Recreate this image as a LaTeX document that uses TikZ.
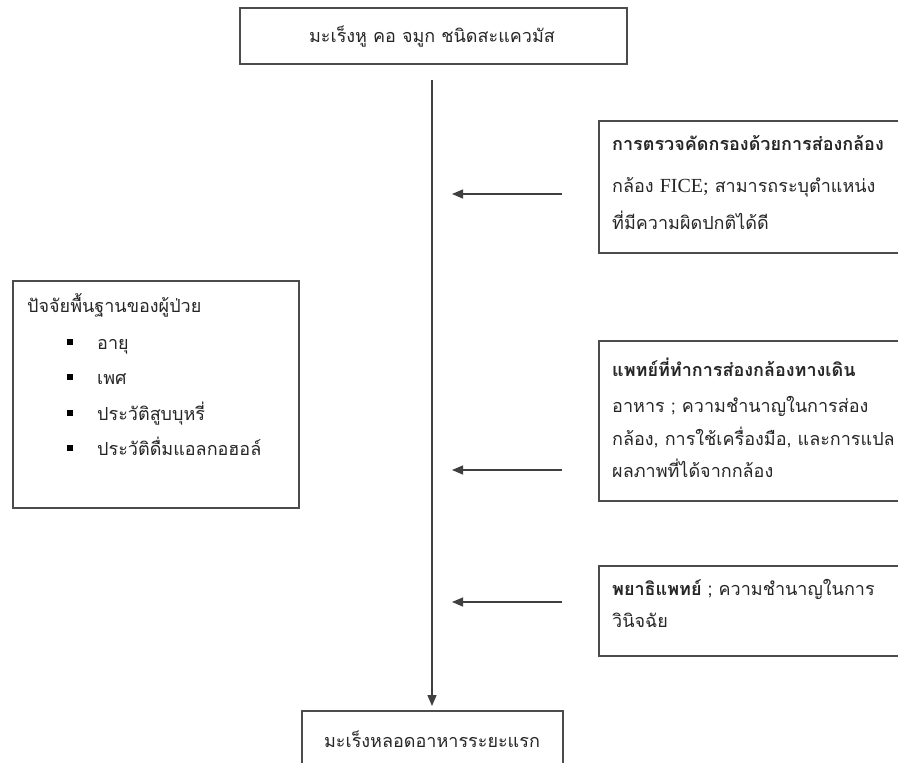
\documentclass[tikz,border=0pt]{standalone}
\usepackage{fontspec}
\setmainfont[Script=Thai]{Loma}
\newfontfamily\latinserif{Liberation Serif}
\usetikzlibrary{arrows.meta}
\tikzset{
  box/.style={draw=black!70, line width=1.5pt, rectangle, anchor=north west, inner sep=0pt},
  txt/.style={anchor=base west, inner sep=0pt, font=\fontsize{18}{20}\selectfont, text=black!85},
  ctxt/.style={anchor=base, inner sep=0pt, font=\fontsize{18}{20}\selectfont, text=black!85},
  flow/.style={draw=black!75, line width=1.3pt, -{Triangle[length=11pt,width=9pt]}},
  bul/.style={fill=black, minimum size=6pt, inner sep=0pt, rectangle}
}
\begin{document}
\begin{tikzpicture}[x=1pt,y=-1pt]
\useasboundingbox (0,0) rectangle (898,763);
\clip (0,0) rectangle (898,763);
\fill[white] (0,0) rectangle (898,763);
% boxes
\node[box, minimum width=387pt, minimum height=56pt] (top) at (239,7) {};
\node[ctxt] (toptxt) at (432,42) {มะเร็งหู คอ จมูก ชนิดสะแควมัส};
\node[box, minimum width=350pt, minimum height=132pt] (b1) at (598,120) {};
\node[txt, font=\fontsize{18}{20}\selectfont\bfseries] (b1l1) at (612,150) {การตรวจคัดกรองด้วยการส่องกล้อง};
\node[txt] (b1l2) at (612,192) {กล้อง {\latinserif\fontsize{20}{22}\selectfont FICE;} สามารถระบุตำแหน่ง};
\node[txt] (b1l3) at (612,229) {ที่มีความผิดปกติได้ดี};
\node[box, minimum width=350pt, minimum height=160pt] (b2) at (598,340) {};
\node[txt, font=\fontsize{18}{20}\selectfont\bfseries] (b2l1) at (612,376) {แพทย์ที่ทำการส่องกล้องทางเดิน};
\node[txt] (b2l2) at (612,412) {อาหาร ; ความชำนาญในการส่อง};
\node[txt] (b2l3) at (612,445) {กล้อง, การใช้เครื่องมือ, และการแปล};
\node[txt] (b2l4) at (612,477) {ผลภาพที่ได้จากกล้อง};
\node[box, minimum width=350pt, minimum height=90pt] (b3) at (598,565) {};
\node[txt] (b3l1) at (612,595) {\textbf{พยาธิแพทย์} ; ความชำนาญในการ};
\node[txt] (b3l2) at (612,627) {วินิจฉัย};
\node[box, minimum width=286pt, minimum height=227pt] (left) at (12,280) {};
\node[txt] (lt) at (27,312) {ปัจจัยพื้นฐานของผู้ป่วย};
\node[bul] (bu1) at (70,342) {};
\node[bul] (bu2) at (70,377) {};
\node[bul] (bu3) at (70,413) {};
\node[bul] (bu4) at (70,448) {};
\node[txt] (i1) at (97,349) {อายุ};
\node[txt] (i2) at (97,384) {เพศ};
\node[txt] (i3) at (97,420) {ประวัติสูบบุหรี่};
\node[txt] (i4) at (97,455) {ประวัติดื่มแอลกอฮอล์};
\node[box, minimum width=261pt, minimum height=62pt] (bot) at (301,710) {};
\node[ctxt] (bottxt) at (432,747) {มะเร็งหลอดอาหารระยะแรก};
% connectors
\coordinate (vtop) at (432,80);
\coordinate (vbot) at (432,706);
\draw[flow] (vtop) -- (vbot);
\coordinate (a1s) at (562,194); \coordinate (a1e) at (452,194);
\coordinate (a2s) at (562,470); \coordinate (a2e) at (452,470);
\coordinate (a3s) at (562,602); \coordinate (a3e) at (452,602);
\draw[flow] (a1s) -- (a1e);
\draw[flow] (a2s) -- (a2e);
\draw[flow] (a3s) -- (a3e);
\end{tikzpicture}
\end{document}
